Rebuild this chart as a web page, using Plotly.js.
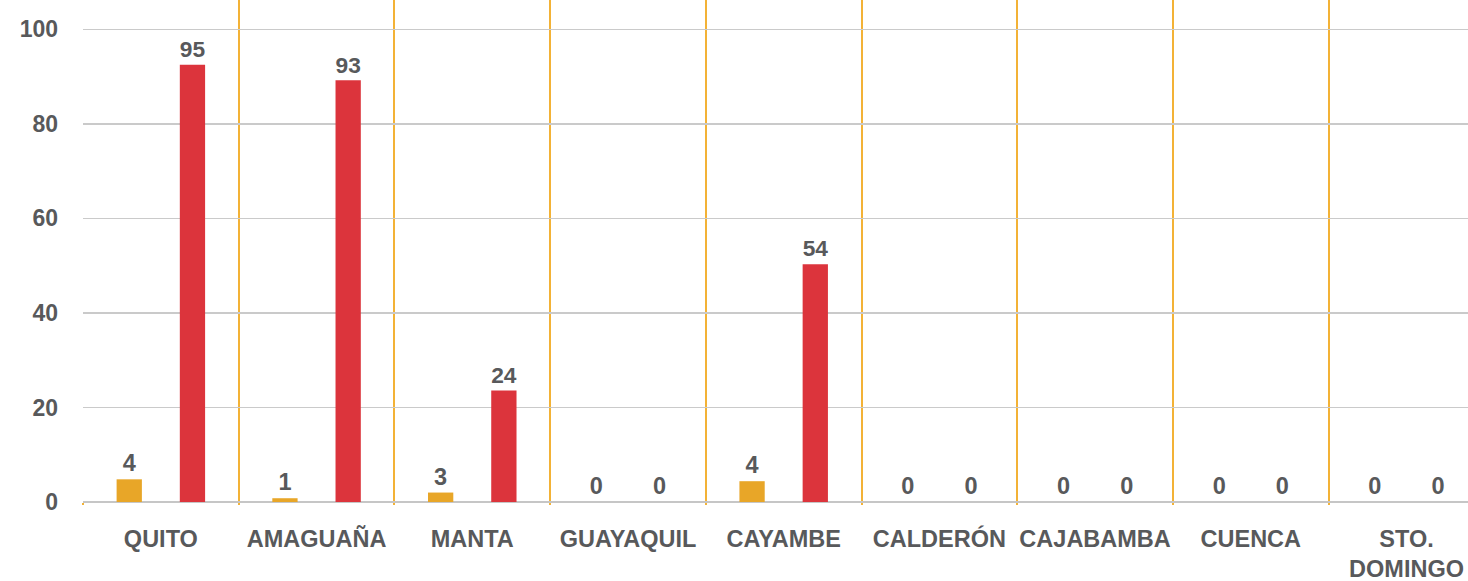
<!DOCTYPE html>
<html>
<head>
<meta charset="utf-8">
<script src="https://cdn.plot.ly/plotly-3.0.1.min.js"></script>
<style>
  html, body { margin: 0; padding: 0; background: #fff; overflow: hidden; }
  #chart { width: 1468px; height: 581px; }
</style>
</head>
<body>
<div id="chart"></div>
<script>
// categories and values
const cities = ['QUITO', 'AMAGUAÑA', 'MANTA', 'GUAYAQUIL', 'CAYAMBE', 'CALDERÓN', 'CAJABAMBA', 'CUENCA', 'STO.<br>DOMINGO'];

// bar heights as drawn
const yellowValues = [4.8, 0.8, 2.0, 0, 4.4, 0, 0, 0, 0];
const redValues = [92.5, 89.2, 23.6, 0, 50.3, 0, 0, 0, 0];

// labels printed above the bars
const yellowLabels = ['4', '1', '3', '0', '4', '0', '0', '0', '0'];
const redLabels = ['95', '93', '24', '0', '54', '0', '0', '0', '0'];

const textGrey = '#58595B';
const fontFamily = 'Liberation Sans, Arial, sans-serif';
const labelFont = { family: fontFamily, size: 23.5, color: textGrey, weight: 'bold' };
const xTickFont = { family: fontFamily, size: 23.5, color: textGrey, weight: 'bold' };
const yTickFont = { family: fontFamily, size: 23, color: textGrey, weight: 'bold' };

const yellowTrace = {
    x: cities,
    y: yellowValues,
    text: yellowLabels,
    type: 'bar',
    marker: { color: '#E8A628' },
    textposition: 'outside',
    textfont: labelFont,
    cliponaxis: false,
    hoverinfo: 'skip',
};

const redTrace = {
    x: cities,
    y: redValues,
    text: redLabels,
    type: 'bar',
    marker: { color: '#DC343C' },
    textposition: 'outside',
    textfont: labelFont,
    cliponaxis: false,
    hoverinfo: 'skip',
};

const layout = {
    width: 1468,
    height: 581,
    barmode: 'group',
    bargap: 0.188,
    bargroupgap: 0.6,
    showlegend: false,
    paper_bgcolor: '#ffffff',
    plot_bgcolor: '#ffffff',
    margin: { t: 0, b: 79, l: 83, r: 0 },
    font: labelFont,
    xaxis: {
        type: 'category',
        range: [-0.5, 8.395],
        tickson: 'boundaries',
        tickangle: 0,
        showgrid: true,
        gridcolor: '#F3B236',
        gridwidth: 2,
        ticks: 'outside',
        ticklen: 2,
        tickcolor: '#F3B236',
        tickwidth: 2,
        ticklabelstandoff: 20,
        tickfont: xTickFont,
        showline: false,
        zeroline: false,
        fixedrange: true,
    },
    yaxis: {
        range: [0, 106.2],
        dtick: 20,
        tick0: 0,
        showgrid: true,
        gridcolor: '#CACACA',
        gridwidth: 1.5,
        zeroline: true,
        zerolinecolor: '#C6C6C6',
        zerolinewidth: 2,
        ticks: '',
        ticklabelstandoff: 24,
        tickfont: yTickFont,
        fixedrange: true,
    },
};

Plotly.newPlot('chart', [yellowTrace, redTrace], layout, { displayModeBar: false, staticPlot: true });
</script>
</body>
</html>
